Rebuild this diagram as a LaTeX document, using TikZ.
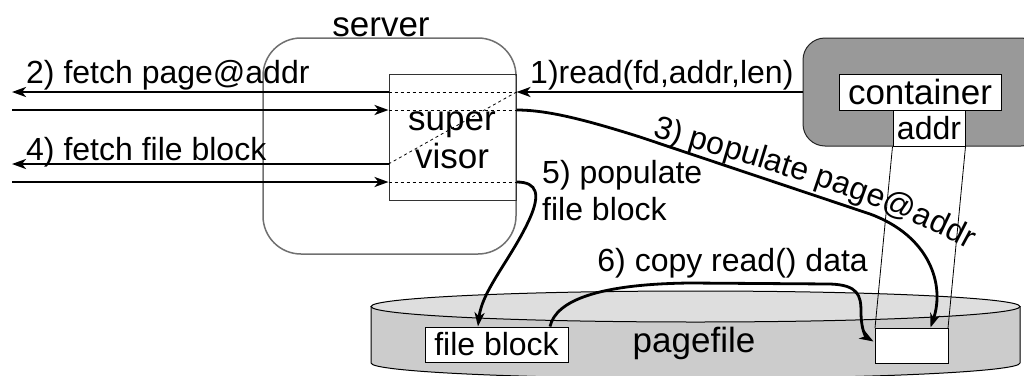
\documentclass[tikz,border=0pt]{standalone}
\usepackage{fontspec}
\setmainfont{Liberation Sans}
\usetikzlibrary{arrows.meta,calc,decorations.text}
\newcommand\tagfont{\fontsize{32}{38}\selectfont}
\newcommand\namefont{\fontsize{35}{40}\selectfont}
\definecolor{contgray}{HTML}{999999}
\definecolor{cylbody}{HTML}{CCCCCC}
\definecolor{cyltop}{HTML}{DEDEDE}
\definecolor{framegray}{HTML}{707070}
\begin{document}
\begin{tikzpicture}[x=1pt,y=-1pt,
  flow/.style={line width=2.8pt,-{Stealth[length=14pt,width=10pt,inset=4pt]}},
  guide/.style={line width=0.8pt,dash pattern=on 3pt off 3pt},
  thinrule/.style={line width=0.8pt},
  txt/.style={inner sep=0pt,font=\tagfont},
  namestyle/.style={inner sep=0pt,font=\namefont},
  whitebox/.style={draw,line width=1pt,fill=white,inner sep=0pt},
]
\useasboundingbox (0,0) rectangle (1024,375);
\clip (0,0) rectangle (1024,375);

% server with the supervisor inside
\node[draw=framegray,line width=1.5pt,rounded corners=38pt,minimum width=253pt,minimum height=216pt,inner sep=0pt] (server) at (389.5,146) {};
\node[namestyle,anchor=base] (servername) at (381,36) {server};
\node[draw=black!80,line width=1pt,minimum width=127pt,minimum height=126pt,inner sep=0pt] (sv) at (452.5,137) {};
\node[namestyle,anchor=base] (svtop) at (452,130) {super};
\node[namestyle,anchor=base] (svbot) at (452,168) {visor};

% outer ends of the fetch channels
\coordinate (o2) at (12,92);
\coordinate (i2) at (12,110);
\coordinate (o4) at (12,164);
\coordinate (i4) at (12,182);

\draw[flow] (sv.west |- o2) -- (o2);
\draw[flow] (i2) -- (sv.west |- i2);
\draw[flow] (sv.west |- o4) -- (o4);
\draw[flow] (i4) -- (sv.west |- i4);

\draw[guide] (sv.west |- o2) -- (sv.east |- o2);
\draw[guide] (sv.west |- i2) -- (sv.east |- i2);
\draw[guide] (sv.west |- i4) -- (sv.east |- i4);
\draw[guide] (sv.west |- o4) -- (sv.east |- o2);

\node[txt,anchor=base west] (l2) at (26,83) {2) fetch page@addr};
\node[txt,anchor=base west] (l4) at (26,160) {4) fetch file block};

% container
\node[draw=black!85,line width=1pt,fill=contgray,rounded corners=22pt,minimum width=240pt,minimum height=108pt,inner sep=0pt] (cont) at (923,92) {};
\node[whitebox,minimum width=162pt,minimum height=36pt,font=\namefont] (cname) at (920,92) {container};
\node[whitebox,minimum width=72pt,minimum height=36pt,font=\tagfont] (addr) at (929,128) {addr};

\draw[flow] (cont.west) -- (sv.east |- cont.west);
\node[txt,anchor=base west] (l1) at (530,83) {1)read(fd,addr,len)};

% pagefile cylinder
\draw[line width=1pt,fill=cylbody] (371,306.5) -- (371,363)
  arc[start angle=180,end angle=360,x radius=324.5pt,y radius=15.5pt]
  -- (1020,306.5) -- cycle;
\draw[line width=1pt,fill=cyltop] (695.5,306.5) ellipse[x radius=324.5pt,y radius=15.5pt];
\node[namestyle,anchor=base] (pf) at (694,352) {pagefile};

\node[whitebox,minimum width=143pt,minimum height=35pt,font=\tagfont] (fblock) at (496.5,344.5) {file block};
\draw[thinrule] (addr.south west) -- (911.5-36.5,328);
\draw[thinrule] (addr.south east) -- (911.5+36.5,328);
\node[whitebox,minimum width=73pt,minimum height=35pt] (pbox) at (911.5,345.5) {};

% 3) populate page@addr
\draw[flow] (sv.east |- i2) .. controls (545,110) and (580,118) .. (640,137)
  -- (870,214) .. controls (930,236) and (945,285) .. ($(pbox.north)+(19,0)$);
\path[decorate,decoration={text along path,text align=left,
  text={|\tagfont|3) populate page@addr}}]
  (652,136) .. controls (760,168) and (900,205) .. (990,262);

% 5) populate file block
\draw[flow] (sv.east |- i4) .. controls (538,182) and (540,195) .. (530,218)
  .. controls (512,258) and (482,290) .. ($(fblock.north)+(-18.5,0)$);
\node[txt,anchor=base west] (l5a) at (542,183) {5) populate};
\node[txt,anchor=base west] (l5b) at (542,220) {file block};

% 6) copy read() data
\draw[flow] ($(fblock.north)+(53.5,0)$) .. controls (556,300) and (600,284) .. (690,283)
  -- (830,284) .. controls (858,285) and (861,295) .. (861,312)
  .. controls (861,330) and (866,337) .. ($(pbox.west)+(-1,-4)$);
\node[txt,anchor=base east] (l6) at (868,271) {6) copy read() data};
\end{tikzpicture}
\end{document}
